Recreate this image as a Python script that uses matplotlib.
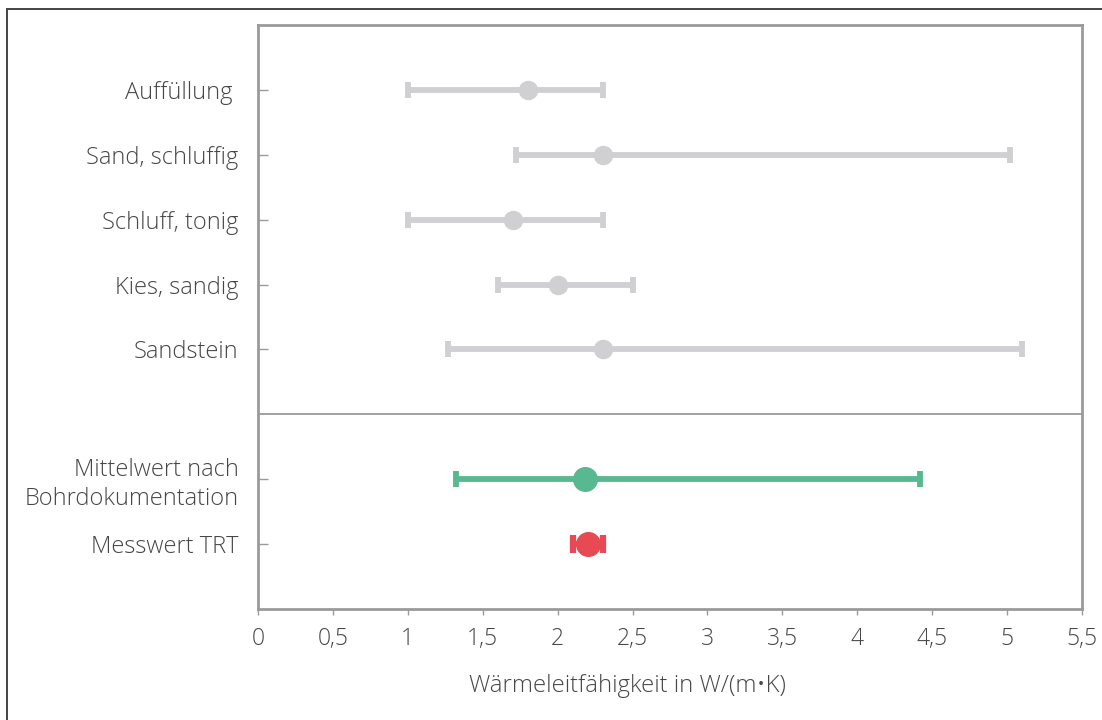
import matplotlib
matplotlib.use("Agg")
import matplotlib.pyplot as plt
from matplotlib.patches import Rectangle

plt.rcParams['font.family'] = ['Open Sans', 'DejaVu Sans']

# Soil layers: range (min/max) and mean thermal conductivity
soil_labels = ["Auffüllung ", "Sand, schluffig", "Schluff, tonig", "Kies, sandig", "Sandstein"]
soil_min = [1.0, 1.72, 1.0, 1.6, 1.27]
soil_max = [2.3, 5.02, 2.3, 2.5, 5.1]
soil_mean = [1.8, 2.3, 1.7, 2.0, 2.3]

# Summary rows
mean_label = "Mittelwert nach\nBohrdokumentation"
mean_min, mean_max, mean_val = 1.32, 4.42, 2.18
trt_label = "Messwert TRT"
trt_min, trt_max, trt_val = 2.1, 2.3, 2.2

x_ticks = [0, 0.5, 1, 1.5, 2, 2.5, 3, 3.5, 4, 4.5, 5, 5.5]
x_ticklabels = ["0", "0,5", "1", "1,5", "2", "2,5", "3", "3,5", "4", "4,5", "5", "5,5"]

text_color = "#474747"
spine_color = "#9a9a9a"
gray = "#d0cfd1"
green = "#58b890"
red = "#e84a55"

fig = plt.figure(figsize=(11.02, 7.2), dpi=100)
ax = fig.add_axes([258 / 1102, 1 - 609 / 720, (1082 - 258) / 1102, (609 - 25) / 720])

# outer frame of the whole figure
fig.patches.append(Rectangle((7 / 1102, -0.05), 1.0, 1 - 9 / 720 + 0.05, transform=fig.transFigure,
                             fill=False, edgecolor="#444444", linewidth=1.4))

soil_pos = list(range(len(soil_labels)))
for y, lo, hi, m in zip(soil_pos, soil_min, soil_max, soil_mean):
    ax.errorbar(m, y, xerr=[[m - lo], [hi - m]], fmt="o", color=gray, ms=13,
                elinewidth=4.2, capsize=6, capthick=4.2, zorder=3)

ax.errorbar(mean_val, 6, xerr=[[mean_val - mean_min], [mean_max - mean_val]], fmt="o",
            color=green, ms=17, elinewidth=4.2, capsize=6, capthick=4.2, zorder=3)
ax.errorbar(trt_val, 7, xerr=[[trt_val - trt_min], [trt_max - trt_val]], fmt="o",
            color=red, ms=17, elinewidth=4.2, capsize=6.5, capthick=4.5, zorder=3)

# separator between soil layers and summary rows
ax.axhline(5, color=spine_color, linewidth=1.3, zorder=1)

ax.set_xlim(0, 5.5)
ax.set_ylim(8, -1)
ax.set_xticks(x_ticks)
ax.set_xticklabels(x_ticklabels, fontweight="light")
ax.set_yticks(soil_pos + [6, 7])
ax.set_yticklabels(soil_labels + [mean_label, trt_label], multialignment="right",
                   linespacing=1.25, fontweight="light")

for s in ax.spines.values():
    s.set_color(spine_color)
    s.set_linewidth(2)

ax.tick_params(axis="y", direction="in", length=7, width=1, color=spine_color,
               pad=14, labelsize=17, labelcolor=text_color)
ax.tick_params(axis="x", direction="out", length=4, width=1, color=spine_color,
               pad=9, labelsize=16.5, labelcolor=text_color)

ax.set_xlabel("Wärmeleitfähigkeit in W/(m•K)", fontsize=17.2, color=text_color,
              fontweight="light")
ax.xaxis.set_label_coords(0.448, -0.112)

fig.savefig("out.png", dpi=100)
